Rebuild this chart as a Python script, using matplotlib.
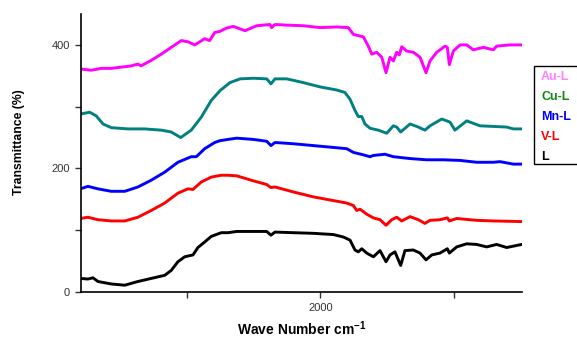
import matplotlib.pyplot as plt
from matplotlib.patches import Rectangle
from matplotlib.ticker import FixedLocator

plt.rcParams["font.family"] = ["Liberation Sans", "DejaVu Sans"]
plt.rcParams["mathtext.fontset"] = "custom"
plt.rcParams["mathtext.rm"] = "Liberation Sans"
plt.rcParams["mathtext.bf"] = "Liberation Sans:bold"

# FTIR spectra (wavenumber cm-1, transmittance %, offset stacked)
au_wn = [3800, 3718, 3643, 3568, 3493, 3418, 3368, 3345, 3268, 3193,
         3118, 3043, 2993, 2942, 2867, 2830, 2792, 2752, 2705, 2653,
         2565, 2477, 2377, 2365, 2340, 2252, 2128, 2002, 1877, 1790,
         1752, 1677, 1640, 1614, 1577, 1539, 1507, 1477, 1452, 1427,
         1407, 1389, 1352, 1302, 1252, 1207, 1177, 1127, 1064, 1047,
         1032, 1002, 952, 902, 852, 777, 702, 677, 577, 489]
au_t = [361, 359, 362, 362, 364, 366, 369, 366, 375, 385,
        396, 407, 405, 400, 410, 407, 420, 422, 427, 430,
        423, 431, 433, 428, 433, 432, 431, 428, 429, 428,
        417, 413, 398, 385, 388, 380, 355, 380, 374, 388,
        384, 397, 390, 388, 380, 355, 374, 388, 398, 396,
        368, 390, 400, 400, 392, 396, 392, 398, 400, 400]

cu_wn = [3800, 3730, 3680, 3630, 3568, 3443, 3317, 3193, 3118, 3047,
         2968, 2893, 2818, 2752, 2677, 2602, 2503, 2402, 2370, 2340,
         2252, 2128, 2002, 1877, 1815, 1777, 1740, 1715, 1689, 1665,
         1627, 1565, 1502, 1452, 1427, 1397, 1327, 1265, 1215, 1177,
         1089, 1027, 990, 902, 802, 702, 602, 552, 489]
cu_t = [288, 291, 285, 272, 266, 264, 264, 262, 259, 250,
        262, 283, 310, 326, 339, 345, 346, 345, 337, 345,
        345, 339, 332, 327, 323, 312, 294, 284, 284, 272,
        265, 262, 257, 269, 267, 259, 272, 267, 262, 269,
        280, 275, 262, 277, 269, 268, 267, 264, 264]

mn_wn = [3800, 3743, 3668, 3568, 3467, 3368, 3268, 3167, 3068, 2968,
         2930, 2867, 2792, 2752, 2692, 2627, 2503, 2402, 2370, 2340,
         2203, 2053, 1902, 1802, 1752, 1677, 1627, 1602, 1515, 1452,
         1327, 1202, 1077, 952, 827, 702, 652, 552, 489]
mn_t = [167, 171, 167, 163, 163, 170, 181, 194, 210, 219,
        219, 232, 242, 245, 247, 249, 247, 244, 237, 242,
        240, 237, 234, 232, 226, 222, 219, 221, 223, 219,
        216, 214, 214, 213, 210, 210, 211, 207, 207]

v_wn = [3800, 3743, 3668, 3568, 3467, 3368, 3268, 3167, 3068, 2993,
        2955, 2893, 2818, 2743, 2692, 2627, 2503, 2402, 2370, 2340,
        2203, 2053, 1902, 1802, 1752, 1727, 1702, 1652, 1602, 1552,
        1507, 1464, 1427, 1389, 1327, 1265, 1215, 1177, 1102, 1047,
        1032, 977, 827, 702, 489]
v_t = [119, 121, 117, 115, 115, 121, 132, 144, 160, 167,
       166, 178, 186, 189, 189, 188, 180, 174, 169, 170,
       162, 154, 148, 144, 140, 132, 134, 126, 120, 117,
       108, 117, 121, 115, 122, 117, 111, 116, 117, 120,
       115, 119, 116, 115, 114]

l_wn = [3800, 3743, 3705, 3668, 3568, 3467, 3368, 3268, 3167, 3118,
        3068, 3017, 2955, 2918, 2867, 2818, 2743, 2692, 2627, 2503,
        2402, 2370, 2340, 2203, 2053, 1902, 1827, 1777, 1740, 1715,
        1689, 1652, 1602, 1552, 1507, 1477, 1440, 1397, 1365, 1302,
        1252, 1207, 1164, 1102, 1047, 1032, 977, 902, 827, 752,
        677, 602, 489]
l_t = [22, 21, 23, 17, 13, 11, 17, 22, 27, 35,
       49, 57, 60, 72, 81, 90, 96, 96, 98, 98,
       98, 92, 97, 96, 95, 93, 89, 84, 68, 65,
       70, 63, 57, 67, 49, 60, 65, 43, 67, 68,
       63, 52, 60, 63, 70, 63, 73, 78, 77, 73,
       77, 72, 77]

series = [
    ("Au-L", au_wn, au_t, "#ff00ff", "#ff80ff"),
    ("Cu-L", cu_wn, cu_t, "#008080", "#118811"),
    ("Mn-L", mn_wn, mn_t, "#0000ff", "#0000ff"),
    ("V-L", v_wn, v_t, "#ff0000", "#ff0000"),
    ("L", l_wn, l_t, "#000000", "#000000"),
]


def main() -> None:
    fig = plt.figure(figsize=(5.77, 3.4), dpi=100)
    ax = fig.add_axes([81 / 577, 1 - 292 / 340, 441 / 577, 278 / 340])

    for name, wn, t, color, _ in series:
        ax.plot(wn, t, color=color, lw=2.1, solid_joinstyle="round")

    ax.set_xlim(3795, 487)
    ax.set_ylim(0, 450)

    ax.xaxis.set_major_locator(FixedLocator([2000]))
    ax.xaxis.set_minor_locator(FixedLocator([1000, 3000]))
    ax.yaxis.set_major_locator(FixedLocator([0, 200, 400]))
    ax.yaxis.set_minor_locator(FixedLocator([100, 300]))
    ax.tick_params(which="both", direction="out", length=4, width=1, color="#333333")
    ax.tick_params(labelsize=8, labelcolor="#333333", pad=4)

    for side in ("top", "right"):
        ax.spines[side].set_visible(False)
    for side in ("left", "bottom"):
        ax.spines[side].set_linewidth(1.2)

    ax.set_xlabel(r"Wave Number cm$^{\mathbf{-1}}$", fontsize=10, fontweight="bold")
    ax.xaxis.label.set_va("baseline")
    ax.xaxis.set_label_coords(0.5, -0.155)
    ax.set_ylabel("Transmittance (%)", fontsize=8.8, fontweight="bold")
    ax.yaxis.set_label_coords(-0.127, 0.54)

    # legend box, running off the right edge as in the reference
    fig.patches.append(Rectangle((534 / 577, 1 - 164 / 340), 60 / 577, 98 / 340,
                                 transform=fig.transFigure, fill=False,
                                 edgecolor="black", lw=1.0))
    for i, (name, _, _, _, tcolor) in enumerate(series):
        fig.text(541 / 577, 1 - (77 + 20 * i) / 340, name, color=tcolor,
                 fontsize=9, fontweight="bold", va="center", ha="left")

    fig.savefig("out.png", dpi=100)


if __name__ == "__main__":
    main()
